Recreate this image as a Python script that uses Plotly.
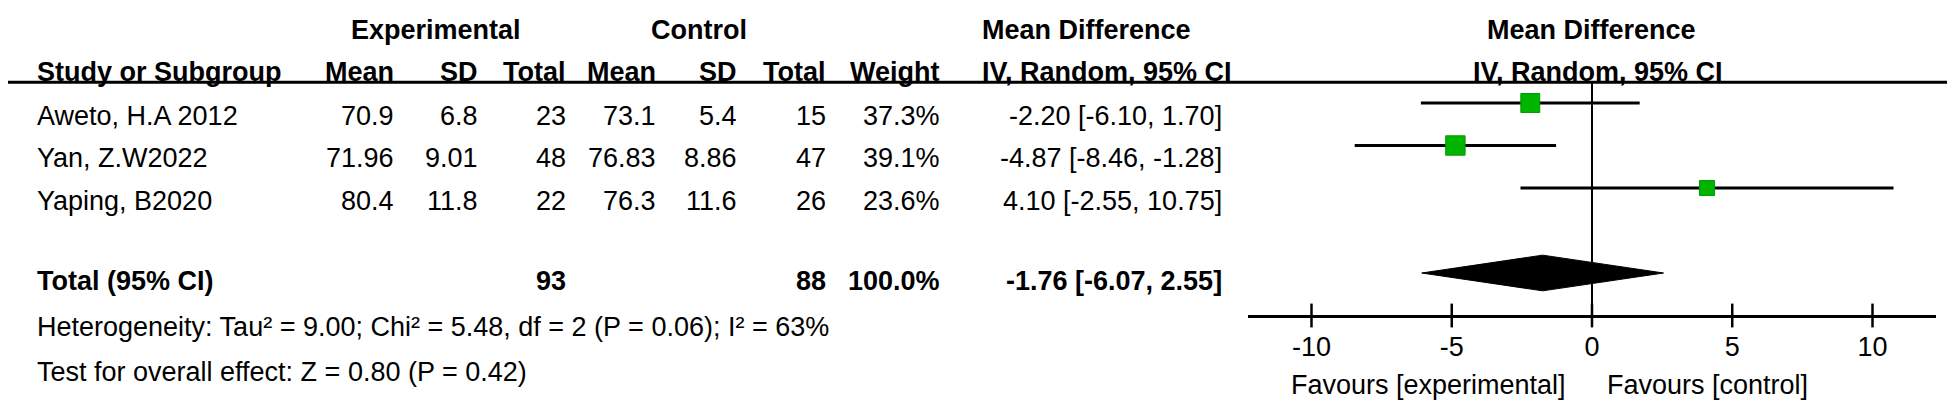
import math
import plotly.graph_objects as go

# ---------------- data ----------------
studies = ["Aweto, H.A 2012", "Yan, Z.W2022", "Yaping, B2020"]
exp_mean = ["70.9", "71.96", "80.4"]
exp_sd = ["6.8", "9.01", "11.8"]
exp_total = [23, 48, 22]
ctrl_mean = ["73.1", "76.83", "76.3"]
ctrl_sd = ["5.4", "8.86", "11.6"]
ctrl_total = [15, 47, 26]
weights = [37.3, 39.1, 23.6]
md = [-2.20, -4.87, 4.10]
ci_low = [-6.10, -8.46, -2.55]
ci_high = [1.70, -1.28, 10.75]

total_label = "Total (95% CI)"
total_exp = 93
total_ctrl = 88
total_weight = 100.0
total_md = -1.76
total_low = -6.07
total_high = 2.55

heterogeneity = "Heterogeneity: Tau² = 9.00; Chi² = 5.48, df = 2 (P = 0.06); I² = 63%"
overall_test = "Test for overall effect: Z = 0.80 (P = 0.42)"

tick_vals = [-10, -5, 0, 5, 10]
tick_text = ["-10", "-5", "0", "5", "10"]
favours_left = "Favours [experimental]"
favours_right = "Favours [control]"

# ---------------- layout constants ----------------
W, H = 1955, 411
FONT = "Liberation Sans, Arial, Helvetica, sans-serif"
FS = 27
ROW0_PX, ROW_PX = 95, 42.5          # first study row pixel, row pitch
ZERO_PX, PPU = 1584, 28.05          # x=0 pixel, pixels per unit
X_MIN, X_MAX = -12.25, 12.25

Y_TOP = -ROW0_PX / ROW_PX
Y_BOTTOM = (H - ROW0_PX) / ROW_PX

HEAD1_Y = -1.72
HEAD2_Y = -0.72
HEAD_LINE_Y = -0.49
TEXT_OFF = 0.3
TOTAL_ROW = 4
TOTAL_TEXT_OFF = 0.19
HET_Y = 5.27
TEST_Y = 6.33
AXIS_ROW = 5.0
FAV_Y = 6.64
DIAMOND_HALF = 0.42

COL_STUDY = 27
COL_EXP_MEAN, COL_EXP_SD, COL_EXP_N = 388, 472, 560
COL_CTRL_MEAN, COL_CTRL_SD, COL_CTRL_N = 650, 731, 820
COL_WEIGHT = 934
COL_MD_R = 1216
COL_MD_L = 972
EXP_CENTER, CTRL_CENTER = 428, 691

fig = go.Figure()
annotations = []


def txt(x_px, y, s, anchor="right", bold=False, xref="paper"):
    x = x_px / W if xref == "paper" else x_px
    annotations.append(dict(
        xref=xref, yref="y", x=x, y=y,
        text=f"<b>{s}</b>" if bold else s,
        xanchor=anchor, yanchor="middle", showarrow=False,
        font=dict(family=FONT, size=FS, color="black")))


def fmt_ci(m, lo, hi):
    return f"{m:.2f} [{lo:.2f}, {hi:.2f}]"


# headers
txt(EXP_CENTER, HEAD1_Y, "Experimental", "center", True)
txt(CTRL_CENTER, HEAD1_Y, "Control", "center", True)
txt(COL_MD_L, HEAD1_Y, "Mean Difference", "left", True)
txt(0, HEAD1_Y, "Mean Difference", "center", True, xref="x")

txt(COL_STUDY, HEAD2_Y, "Study or Subgroup", "left", True)
for col, lab in [(COL_EXP_MEAN, "Mean"), (COL_EXP_SD, "SD"), (COL_EXP_N, "Total"),
                 (COL_CTRL_MEAN, "Mean"), (COL_CTRL_SD, "SD"), (COL_CTRL_N, "Total"),
                 (COL_WEIGHT, "Weight")]:
    txt(col, HEAD2_Y, lab, "right", True)
txt(COL_MD_L, HEAD2_Y, "IV, Random, 95% CI", "left", True)
txt(0.2, HEAD2_Y, "IV, Random, 95% CI", "center", True, xref="x")

# study rows
for i, name in enumerate(studies):
    y = i + TEXT_OFF
    txt(COL_STUDY, y, name, "left")
    txt(COL_EXP_MEAN, y, exp_mean[i])
    txt(COL_EXP_SD, y, exp_sd[i])
    txt(COL_EXP_N, y, str(exp_total[i]))
    txt(COL_CTRL_MEAN, y, ctrl_mean[i])
    txt(COL_CTRL_SD, y, ctrl_sd[i])
    txt(COL_CTRL_N, y, str(ctrl_total[i]))
    txt(COL_WEIGHT, y, f"{weights[i]:.1f}%")
    txt(COL_MD_R, y, fmt_ci(md[i], ci_low[i], ci_high[i]))

# total row
ty = TOTAL_ROW + TOTAL_TEXT_OFF
txt(COL_STUDY, ty, total_label, "left", True)
txt(COL_EXP_N, ty, str(total_exp), "right", True)
txt(COL_CTRL_N, ty, str(total_ctrl), "right", True)
txt(COL_WEIGHT, ty, f"{total_weight:.1f}%", "right", True)
txt(COL_MD_R, ty, fmt_ci(total_md, total_low, total_high), "right", True)

txt(COL_STUDY, HET_Y, heterogeneity, "left")
txt(COL_STUDY, TEST_Y, overall_test, "left")

txt(-0.85, FAV_Y, favours_left, "right", xref="x")
txt(0.45, FAV_Y, favours_right, "left", xref="x")

# ---------------- forest plot marks ----------------
ci_x, ci_y = [], []
for i in range(len(studies)):
    ci_x += [ci_low[i], ci_high[i], None]
    ci_y += [i, i, None]
fig.add_trace(go.Scatter(x=ci_x, y=ci_y, mode="lines",
                         line=dict(color="black", width=3), hoverinfo="skip"))

fig.add_trace(go.Scatter(
    x=md, y=list(range(len(studies))), mode="markers",
    marker=dict(symbol="square", size=[3.1 * math.sqrt(w) for w in weights],
                color="#00b400", opacity=1, line=dict(color="#009a00", width=1)),
    hoverinfo="skip"))

fig.add_trace(go.Scatter(
    x=[total_low, total_md, total_high, total_md, total_low],
    y=[TOTAL_ROW, TOTAL_ROW - DIAMOND_HALF, TOTAL_ROW, TOTAL_ROW + DIAMOND_HALF, TOTAL_ROW],
    mode="lines", fill="toself", fillcolor="black",
    line=dict(color="black", width=1), hoverinfo="skip"))

# tick marks crossing the axis line
fig.add_trace(go.Scatter(
    x=tick_vals, y=[AXIS_ROW] * len(tick_vals), mode="markers",
    marker=dict(symbol="line-ns", size=17, line=dict(color="black", width=2.5)),
    hoverinfo="skip"))

shapes = [
    dict(type="line", xref="paper", yref="y", x0=0, x1=1, y0=HEAD_LINE_Y, y1=HEAD_LINE_Y,
         line=dict(color="black", width=3)),
    dict(type="line", xref="x", yref="y", x0=0, x1=0, y0=HEAD_LINE_Y, y1=AXIS_ROW,
         line=dict(color="black", width=2)),
]

axis_pos = 1 - (ROW0_PX + AXIS_ROW * ROW_PX) / H
x_dom = [(ZERO_PX + X_MIN * PPU) / W, (ZERO_PX + X_MAX * PPU) / W]

fig.update_layout(
    width=W, height=H, margin=dict(l=0, r=0, t=0, b=0),
    paper_bgcolor="white", plot_bgcolor="rgba(0,0,0,0)",
    showlegend=False, annotations=annotations, shapes=shapes,
    xaxis=dict(domain=x_dom, range=[X_MIN, X_MAX], anchor="free", position=axis_pos,
               showline=True, linecolor="black", linewidth=3, ticks="",
               tickvals=tick_vals, ticktext=tick_text, ticklabelstandoff=6,
               tickfont=dict(family=FONT, size=FS, color="black"),
               showgrid=False, zeroline=False, fixedrange=True),
    yaxis=dict(domain=[0, 1], range=[Y_BOTTOM, Y_TOP], visible=False,
               showgrid=False, zeroline=False, fixedrange=True),
)
fig.update_traces(cliponaxis=False)

fig.write_html("out.html")
